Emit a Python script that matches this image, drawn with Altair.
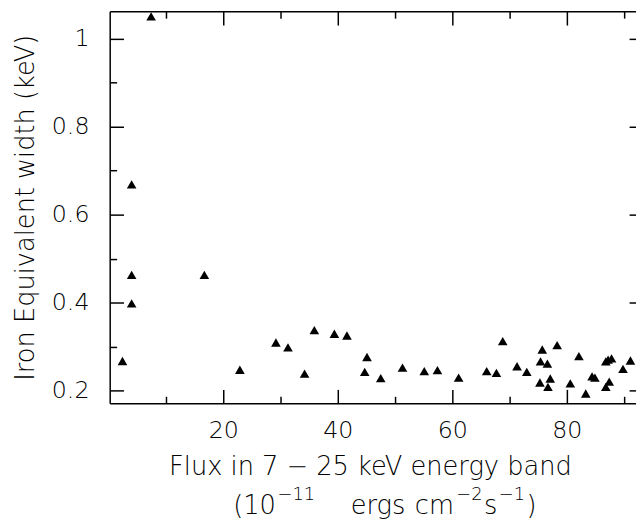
import altair as alt
import pandas as pd

# ---- data ----
flux = [2.4, 4.0, 4.0, 4.0, 7.4, 16.7, 22.9, 29.2, 31.3, 34.2,
        35.9, 39.4, 41.6, 45.1, 44.7, 47.5, 51.3, 55.1, 57.4, 61.1,
        66.0, 67.7, 68.8, 71.3, 73.0, 75.7, 75.4, 76.6, 75.3, 77.1,
        76.7, 78.3, 80.6, 82.1, 83.3, 84.4, 84.9, 86.8, 87.2, 87.8,
        86.8, 87.4, 89.8, 91.1]
iron_ew = [0.267, 0.669, 0.463, 0.398, 1.051, 0.463, 0.247, 0.309, 0.298, 0.238,
           0.337, 0.329, 0.325, 0.276, 0.242, 0.228, 0.252, 0.244, 0.246, 0.229,
           0.244, 0.240, 0.312, 0.255, 0.242, 0.293, 0.266, 0.261, 0.218, 0.227,
           0.208, 0.303, 0.216, 0.278, 0.193, 0.232, 0.229, 0.266, 0.270, 0.273,
           0.208, 0.220, 0.249, 0.268]

x_label_values = [20, 40, 60, 80]
x_tick_values = [10, 20, 30, 40, 50, 60, 70, 80, 90]
y_label_values = [0.2, 0.4, 0.6, 0.8, 1.0]
y_tick_values = [0.2, 0.3, 0.4, 0.5, 0.6, 0.7, 0.8, 0.9, 1.0]

x_title_1 = "Flux in 7 \u2212 25 keV energy band"
x_title_2 = ["(10", "\u221211", "ergs", "cm", "\u22122", "s", "\u22121", ")"]
y_title = "Iron Equivalent width (keV)"

# ---- layout ----
FONT = "DejaVu Sans"
FW = 200
FS = 24
TS = 26
SUP = 18
W = 533        # declared plot width (svg is clipped at the window edge)
XR = 540       # actual x range in pixels
H = 397

df = pd.DataFrame({"flux": flux, "ew": iron_ew})
base = alt.Chart(df)

xs = alt.Scale(domain=[0.17, 93.28], range=[0, XR], nice=False, zero=False)
ys = alt.Scale(domain=[0.1708, 1.0629], nice=False, zero=False)

major_x = {"condition": {"test": "datum.value % 20 === 0", "value": 14}, "value": 7}
major_y = {"condition": {"test": "round(datum.value * 10) % 2 === 0", "value": 14}, "value": 7}

frame = dict(domain=True, domainColor="black", domainWidth=1.5, ticks=True,
             tickColor="black", tickWidth=1.5, labels=False, grid=False, title=None)

pts = base.mark_point(shape="triangle-up", filled=True, color="black", size=95, opacity=1).encode(
    x=alt.X("flux:Q", scale=xs, axis=alt.Axis(orient="bottom", values=x_label_values, ticks=False,
            domain=False, grid=False, labelFont=FONT, labelFontWeight=FW, labelFontSize=FS,
            labelColor="black", labelPadding=16, labelFlush=False, labelOverlap=False, title=None)),
    y=alt.Y("ew:Q", scale=ys, axis=alt.Axis(orient="left", values=y_label_values, format="~g",
            ticks=False, domain=False, grid=False, labelFont=FONT, labelFontWeight=FW,
            labelFontSize=FS, labelColor="black", labelPadding=21, labelOverlap=False, title=None)),
)

inner_a = base.mark_point(opacity=0).encode(
    x=alt.X("flux:Q", scale=xs, axis=alt.Axis(orient="top", offset=-H, values=x_tick_values,
            tickSize=major_x, **frame)),
    y=alt.Y("ew:Q", scale=ys, axis=alt.Axis(orient="right", offset=-W, values=y_tick_values,
            tickSize=major_y, **frame)),
)
inner_b = base.mark_point(opacity=0).encode(
    x=alt.X("flux:Q", scale=xs, axis=alt.Axis(orient="bottom", offset=-H, values=x_tick_values,
            tickSize=major_x, **frame)),
    y=alt.Y("ew:Q", scale=ys, axis=alt.Axis(orient="left", offset=-XR, values=y_tick_values,
            tickSize=major_y, **frame)),
)


def text(t, x, y, size=TS, angle=0, align="left"):
    return alt.Chart(pd.DataFrame({"t": [t]})).mark_text(
        align=align, baseline="alphabetic", font=FONT, fontWeight=FW, fontSize=size,
        angle=angle, color="black"
    ).encode(x=alt.value(x), y=alt.value(y), text="t:N")


# page coords -> group coords: x - 111, y - 8
texts = [
    text(x_title_1, 264, 470, align="center"),
    text(x_title_2[0], 125, 509),
    text(x_title_2[1], 170, 495, size=SUP),
    text(x_title_2[2], 244, 509),
    text(x_title_2[3], 309, 509),
    text(x_title_2[4], 351, 495, size=SUP),
    text(x_title_2[5], 379, 509),
    text(x_title_2[6], 394, 495, size=SUP),
    text(x_title_2[7], 422, 509),
    text(y_title, -77, 199, angle=270, align="center"),
]

chart = alt.layer(inner_a, inner_b, pts, *texts).resolve_axis(
    x="independent", y="independent"
).properties(
    width=W, height=H,
    padding={"left": 103, "top": 0, "right": 0, "bottom": 116},
    autosize=alt.AutoSizeParams(type="none"),
).configure_view(stroke=None)

chart.save("out.html", embed_options={"renderer": "svg", "actions": False})
